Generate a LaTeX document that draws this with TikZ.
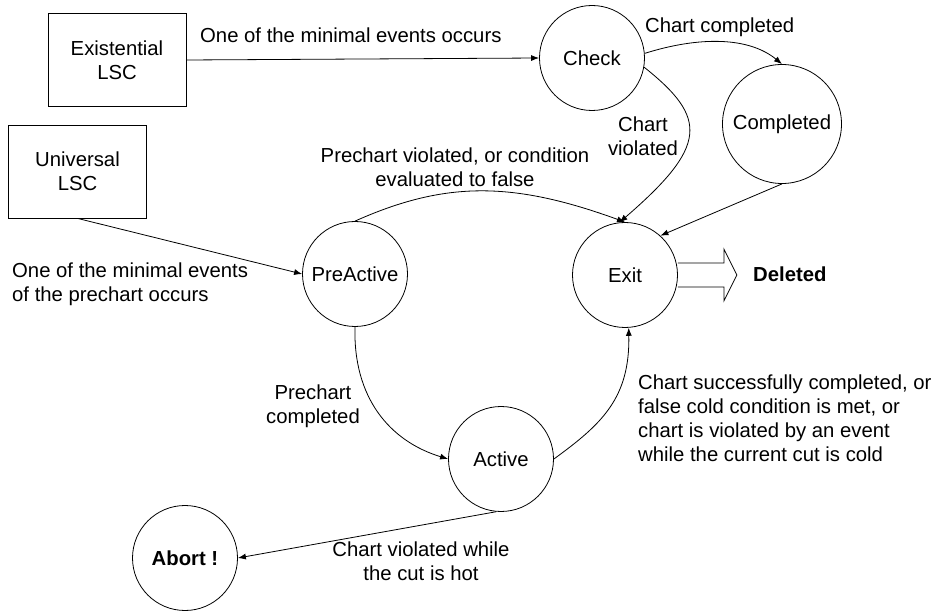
\documentclass[tikz,border=0pt]{standalone}
\usepackage{fontspec}
\setmainfont{Liberation Sans}
\usetikzlibrary{arrows.meta}

\begin{document}
\begin{tikzpicture}[x=1pt,y=-1pt,
  every node/.style={font=\fontsize{20.3}{24}\selectfont},
  lsc/.style={draw, line width=.8pt, minimum width=138pt, minimum height=93pt, align=center},
  state/.style={draw, circle, line width=.8pt, minimum size=105pt, inner sep=0pt},
  lbl/.style={inner sep=0pt},
  edge/.style={line width=.8pt, -{Latex[length=8pt,width=6pt]}}]
\useasboundingbox (0,0) rectangle (938,612);
\node[lsc] (exist) at (117,60) {Existential\\LSC};
\node[lsc] (univ) at (77.5,171.5) {Universal\\LSC};
\node[state] (check) at (592,58) {Check};
\node[state, minimum size=119pt] (compl) at (782,124) {Completed};
\node[state] (pre) at (355,274) {PreActive};
\node[state] (exit) at (625,275) {Exit};
\node[state] (act) at (501,459) {Active};
\node[state] (abort) at (185,558) {\textbf{Abort !}};
\node[lbl, anchor=west] (deleted) at (753,274) {\textbf{Deleted}};
\draw[line width=.8pt] (exit.east) ++(0,-12) -- ++(46,0) -- ++(0,-14) -- ++(13,26)
  -- ++(-13,26) -- ++(0,-14) -- ++(-46,0);
\draw[edge] (exist.east) -- (check.west);
\draw[edge] (univ.south) -- (pre.west);
\draw[edge] (check.5) .. controls (700,36) and (749,37) .. (compl.north);
\draw[edge] (check.-10) .. controls (708,118) and (708,146) .. (exit.96);
\draw[edge] (compl.south) -- (exit.48);
\draw[edge] (pre.north) .. controls (445,181) and (512,181) .. (exit.north);
\draw[edge] (pre.south) .. controls (353,397) and (389,441) .. (act.west);
\draw[edge] (act.east) .. controls (602,424) and (630,398) .. (exit.-86);
\draw[edge] (act.265) -- (abort.east);
\node[lbl, anchor=north west] (occurs) at (200,28) {One of the minimal events occurs};
\node[lbl, anchor=north west] (done) at (645,18) {Chart completed};
\node[lbl, anchor=north, align=center] (viol) at (643,117) {Chart\\violated};
\node[lbl, anchor=north, align=center] (previol) at (455,148) {Prechart violated, or condition\\evaluated to false};
\node[lbl, anchor=north west, align=left] (minev) at (12,263) {One of the minimal events\\of the prechart occurs};
\node[lbl, anchor=north, align=center] (predone) at (313,385) {Prechart\\completed};
\node[lbl, anchor=north west, align=left] (cold) at (638,375) {Chart successfully completed, or\\false cold condition is met, or\\chart is violated by an event\\while the current cut is cold};
\node[lbl, anchor=north, align=center] (hot) at (421,542) {Chart violated while\\the cut is hot};
\end{tikzpicture}
\end{document}
